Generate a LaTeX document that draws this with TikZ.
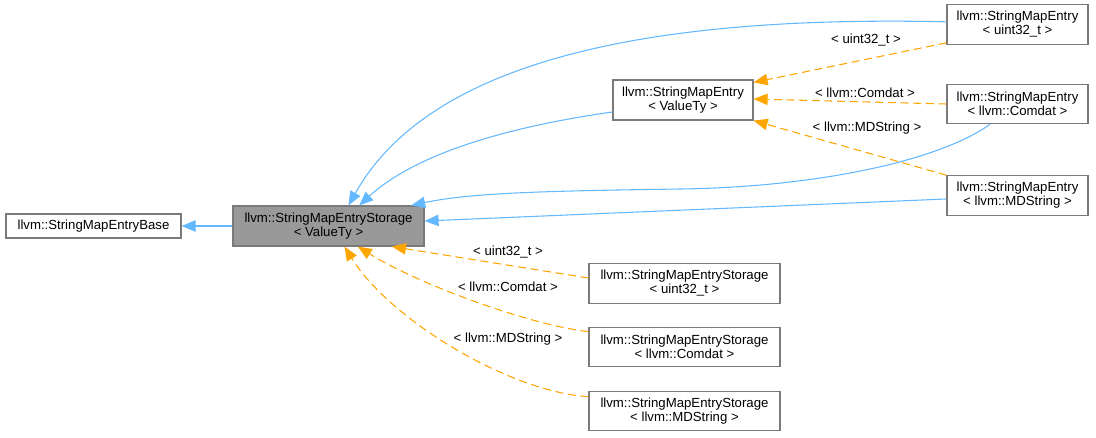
\documentclass[tikz,border=0pt]{standalone}
\usepackage{fontspec}
\setmainfont{Liberation Sans}
\usetikzlibrary{arrows.meta}
\definecolor{edgeblue}{HTML}{63B8FF}
\definecolor{edgeorange}{HTML}{FFA500}
\definecolor{boxborder}{HTML}{7A7A7A}
\definecolor{boxfill}{HTML}{999999}
\begin{document}
\begin{tikzpicture}[x=0.75pt,y=-0.75pt,
  every node/.style={font=\fontsize{9.9pt}{10.5pt}\selectfont},
  box/.style={draw=boxborder, line width=0.9pt, fill=white, align=center, inner sep=0pt, minimum height=29.6pt},
  wbox/.style={box, minimum width=143.25pt},
  ebox/.style={box, minimum width=105.75pt},
  inh/.style={draw=edgeblue, line width=0.8pt, -{Triangle[length=10.5pt,width=8.5pt]}, fill=none},
  tmpl/.style={draw=edgeorange, line width=0.8pt, dash pattern=on 6pt off 3.5pt, -{Triangle[length=10.5pt,width=8.5pt,fill=edgeorange]}},
  lbl/.style={inner sep=0pt}
]
\useasboundingbox (0,0) rectangle (1096,437);
% nodes
\node[box, minimum width=131.25pt, minimum height=18pt] (base) at (93.5,226) {llvm::StringMapEntryBase};
\node[wbox, fill=boxfill, minimum height=30pt] (st) at (328.5,226) {llvm::StringMapEntryStorage\\< ValueTy >};
\node[box, minimum width=105pt, minimum height=30pt] (ev) at (683,100) {llvm::StringMapEntry\\< ValueTy >};
\node[ebox] (eu) at (1017.5,24.5) {llvm::StringMapEntry\\< uint32\_t >};
\node[ebox] (ec) at (1017.5,104) {llvm::StringMapEntry\\< llvm::Comdat >};
\node[ebox] (emd) at (1017.5,195.5) {llvm::StringMapEntry\\< llvm::MDString >};
\node[wbox] (su) at (684.5,283.5) {llvm::StringMapEntryStorage\\< uint32\_t >};
\node[wbox] (sc) at (684.5,347) {llvm::StringMapEntryStorage\\< llvm::Comdat >};
\node[wbox] (smd) at (684.5,411) {llvm::StringMapEntryStorage\\< llvm::MDString >};
% inheritance edges
\draw[inh] (st.west) -- (base.east);
\draw[inh] ([yshift=2pt]eu.west) .. controls (650,15) and (430,60) .. ([xshift=15pt]st.north);
\draw[inh] ([yshift=-9pt]ev.west) .. controls (520,125) and (420,150) .. ([xshift=23pt]st.north);
\draw[inh] ([xshift=-20.6pt]ec.south) .. controls (940,160) and (820,187) .. (680,189) .. controls (540,191) and (470,193) .. ([xshift=62pt]st.north);
\draw[inh] ([yshift=-2.6pt]emd.west) -- ([yshift=3.75pt]st.east);
% template edges
\draw[tmpl] ([yshift=1.5pt]eu.south west) -- ([yshift=-2.25pt]ev.north east);
\node[lbl] (l1) at (866,40) {< uint32\_t >};
\draw[tmpl] (ec.west) -- ([yshift=0.75pt]ev.east);
\node[lbl] (l2) at (865,93) {< llvm::Comdat >};
\draw[tmpl] (emd.north west) -- (ev.south east);
\node[lbl] (l3) at (867,128) {< llvm::MDString >};
\draw[tmpl] ([yshift=4.1pt]su.west) -- ([xshift=47.6pt]st.south);
\node[lbl] (l4) at (508,252) {< uint32\_t >};
\draw[tmpl] ([yshift=-3.75pt]sc.north west) .. controls (530,325) and (420,285) .. ([xshift=22pt]st.south);
\node[lbl] (l5) at (508,287) {< llvm::Comdat >};
\draw[tmpl] ([yshift=-4.5pt]smd.north west) .. controls (510,392) and (390,320) .. ([xshift=12pt]st.south);
\node[lbl] (l6) at (508,339) {< llvm::MDString >};
\end{tikzpicture}
\end{document}
